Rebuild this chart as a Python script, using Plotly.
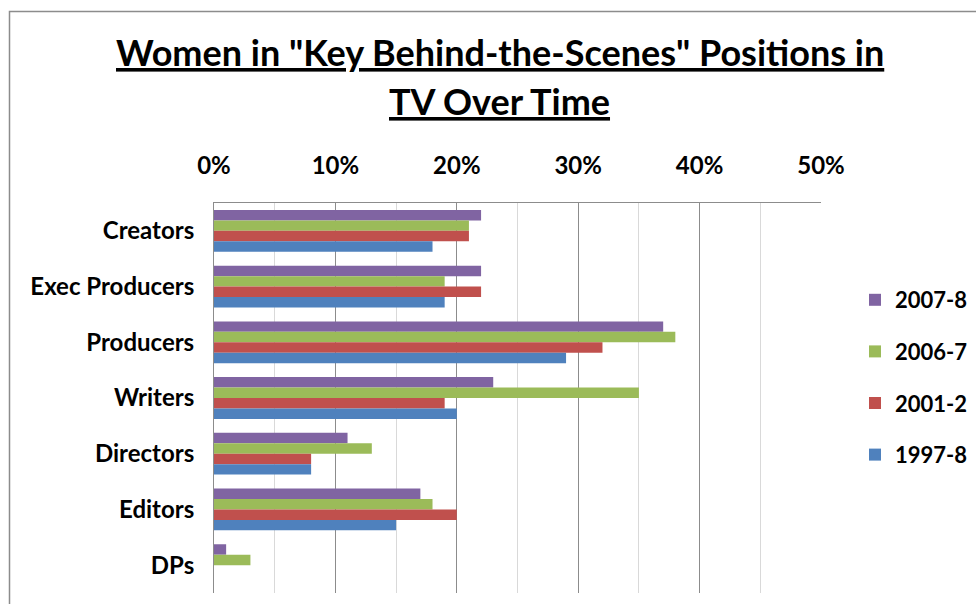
import plotly.graph_objects as go

categories = ["Creators", "Exec Producers", "Producers", "Writers", "Directors", "Editors", "DPs"]
series_names = ["2007-8", "2006-7", "2001-2", "1997-8"]
s_2007_8 = [0.22, 0.22, 0.37, 0.23, 0.11, 0.17, 0.01]
s_2006_7 = [0.21, 0.19, 0.38, 0.35, 0.13, 0.18, 0.03]
s_2001_2 = [0.21, 0.22, 0.32, 0.19, 0.08, 0.20, 0.0]
s_1997_8 = [0.18, 0.19, 0.29, 0.20, 0.08, 0.15, 0.0]
colors = ["#8064A2", "#9BBB59", "#C0504D", "#4F81BD"]
title_line1 = 'Women in "Key Behind-the-Scenes" Positions in'
title_line2 = "TV Over Time"

FONT = "Lato, 'Liberation Sans', sans-serif"

fig = go.Figure()
for name, vals, col in zip(series_names, [s_2007_8, s_2006_7, s_2001_2, s_1997_8], colors):
    fig.add_trace(go.Bar(
        y=categories, x=vals, name=name, orientation="h",
        marker=dict(color=col, line=dict(width=0)),
        legendgroup=name,
    ))

W, H = 976, 604
ml, mr, mt, mb = 214, 0, 203, 11
plot_right = 821
pw, ph = W - ml - mr, H - mt - mb

def px_x(px):
    return (px - ml) / pw

def px_y(py):
    return 1 + (mt - py) / ph

fig.update_layout(
    width=W, height=H,
    margin=dict(l=ml, r=mr, t=mt, b=mb, pad=0, autoexpand=False),
    paper_bgcolor="white", plot_bgcolor="white",
    barmode="group", bargap=0.25, bargroupgap=0,
    font=dict(family=FONT, color="black"),
    xaxis=dict(
        domain=[0, px_x(plot_right)],
        side="top", range=[0, 0.5], dtick=0.1, tick0=0, tickformat=".0%",
        showgrid=True, gridcolor="#8c8c8c", gridwidth=1,
        minor=dict(dtick=0.05, showgrid=True, gridcolor="#d9d9d9", gridwidth=1),
        showline=True, linecolor="#8c8c8c", linewidth=1,
        zeroline=False, ticks="", ticklabelstandoff=18,
        tickfont=dict(family=FONT, size=24, color="black", weight="bold"),
        fixedrange=True,
    ),
    yaxis=dict(
        autorange="reversed", showline=True, linecolor="#8c8c8c", linewidth=1,
        ticks="", ticklabelstandoff=14, showgrid=False,
        tickfont=dict(family=FONT, size=24, color="black", weight="bold"),
        fixedrange=True,
    ),
    legend=dict(
        x=px_x(855), y=px_y(279), xanchor="left", yanchor="top",
        font=dict(family=FONT, size=22, color="black", weight="bold"),
        traceorder="grouped", tracegroupgap=20, bgcolor="rgba(0,0,0,0)",
    ),
    showlegend=True,
    shapes=[dict(
        type="rect", xref="paper", yref="paper",
        x0=px_x(9.5), x1=px_x(1200), y0=px_y(800), y1=px_y(11.5),
        line=dict(color="#8c8c8c", width=1.5), fillcolor="rgba(0,0,0,0)", layer="below",
    )],
    annotations=[
        dict(text="<u>" + title_line1 + "</u>", x=px_x(500), y=px_y(52), xref="paper", yref="paper",
             xanchor="center", yanchor="middle", showarrow=False,
             font=dict(family=FONT, size=36, color="black", weight="bold")),
        dict(text="<u>" + title_line2 + "</u>", x=px_x(499), y=px_y(101), xref="paper", yref="paper",
             xanchor="center", yanchor="middle", showarrow=False,
             font=dict(family=FONT, size=36, color="black", weight="bold")),
    ],
)

fig.write_html(
    "out.html",
    config={"displayModeBar": False},
    post_script="document.body.style.margin='0';document.body.style.padding='0';document.body.style.overflow='hidden';",
)
